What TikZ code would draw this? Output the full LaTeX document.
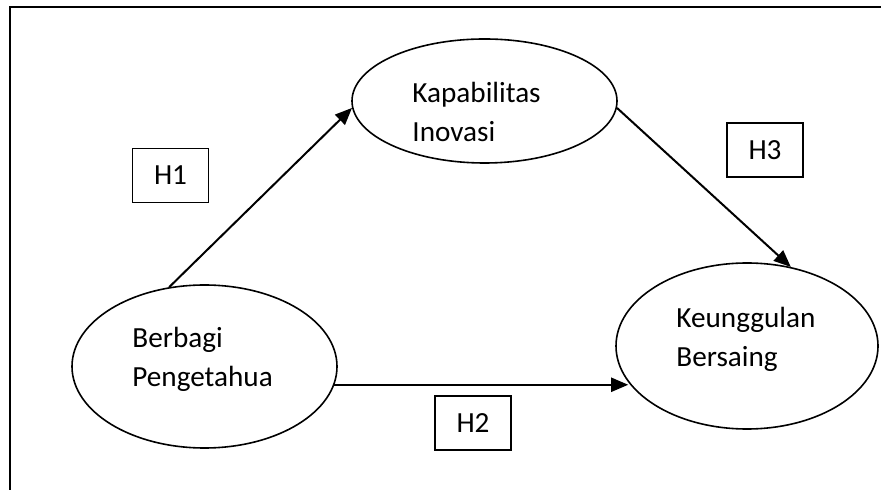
\documentclass[tikz,border=0pt]{standalone}
\usepackage{fontspec}
\setmainfont{Carlito}
\usepackage{tikz}
\usetikzlibrary{arrows.meta,shapes}

\tikzset{
    var/.style={draw, ellipse, line width=0.8pt, inner sep=0pt},
    vartext/.style={anchor=base west, align=left, inner sep=0pt},
    hypbox/.style={draw, line width=0.7pt, minimum width=38pt, minimum height=27pt, inner sep=0pt},
    path/.style={line width=1pt, -{Triangle[length=8.5pt,width=7pt]}}
}

\begin{document}
\begin{tikzpicture}[x=0.5pt, y=-0.5pt, font=\fontsize{14.6pt}{19.8pt}\selectfont]
        \path[use as bounding box, clip] (0,0) rectangle (881,490);
        \draw[line width=1pt] (10,7) rectangle (900,510);

        \node[var, minimum width=132.5pt, minimum height=62pt] (kapab) at (484.5,101) {};
        \node[var, minimum width=132.5pt, minimum height=81.5pt] (berbagi) at (204.5,366.5) {};
        \node[var, minimum width=131pt, minimum height=83pt] (keung) at (747,346) {};

        % base of a two-line node is its last line
        \node[vartext] (kapabtxt) at (412,142) {Kapabilitas\\Inovasi};
        \node[vartext] (berbagitxt) at (132,387) {Berbagi\\Pengetahua};
        \node[vartext] (keungtxt) at (676,367) {Keunggulan\\Bersaing};

        \node[hypbox] (h1) at (170.5,175.5) {H1};
        \node[hypbox] (h2) at (473,423) {H2};
        \node[hypbox] (h3) at (765,150) {H3};

        \draw[path] (berbagi.114) -- (kapab.183);
        \draw[path] (kapab.357) -- (keung.61);
        \draw[path] (berbagi.352.7) -- (berbagi.352.7 -| keung.197.6);
\end{tikzpicture}
\end{document}
